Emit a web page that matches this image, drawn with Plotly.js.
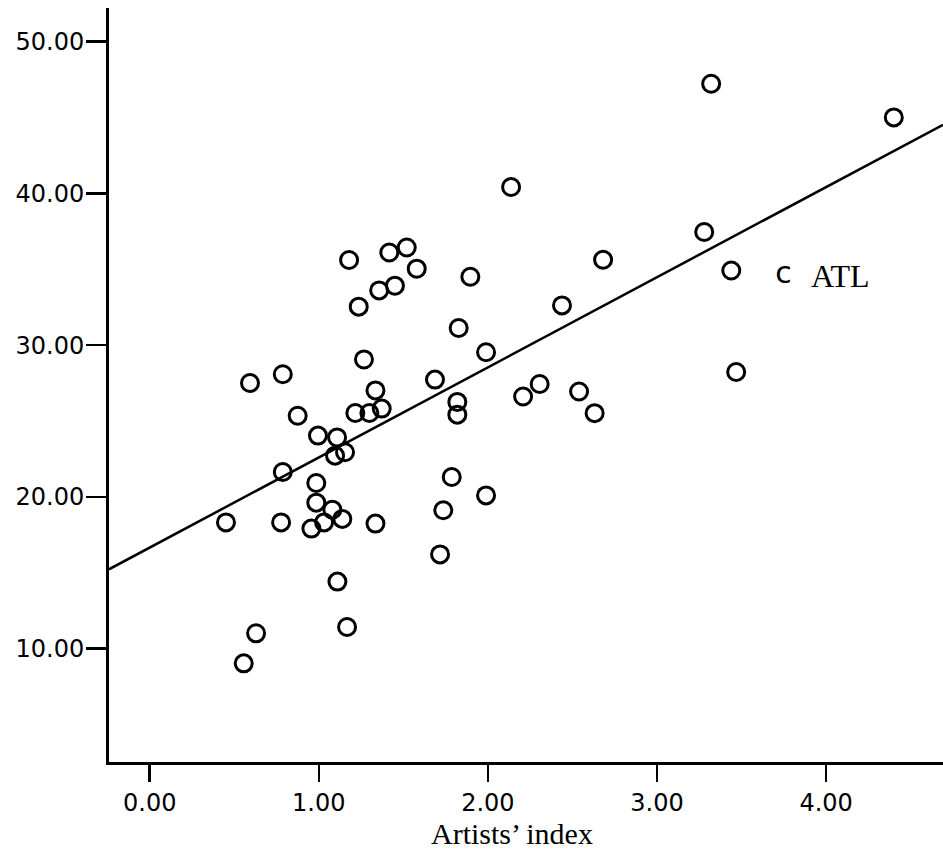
<!DOCTYPE html>
<html>
<head>
<meta charset="utf-8">
<script src="https://cdn.plot.ly/plotly-3.0.1.min.js"></script>
<style>html,body{margin:0;padding:0;background:#fff;}#chart{width:943px;height:852px;}</style>
</head>
<body>
<div id="chart"></div>
<script>
// Artists' index (x) vs outcome (y)
const artistsIndex = [0.451,0.556,0.593,0.629,0.777,0.787,0.787,0.875,0.956,0.985,0.985,0.995,1.031,1.080,1.096,1.108,1.110,1.139,1.155,1.167,1.179,1.216,1.236,1.267,1.299,1.335,1.335,1.357,1.372,1.417,1.450,1.520,1.579,1.687,1.717,1.736,1.786,1.819,1.819,1.827,1.896,1.989,1.989,2.137,2.208,2.306,2.438,2.539,2.631,2.681,3.279,3.320,3.439,3.468,4.400];
const values = [18.32,9.03,27.51,11.01,18.32,28.08,21.64,25.35,17.91,20.92,19.62,24.04,18.32,19.16,22.72,23.92,14.42,18.55,22.94,11.43,35.61,25.53,32.54,29.06,25.53,27.02,18.24,33.61,25.82,36.11,33.92,36.44,35.04,27.73,16.21,19.12,21.31,26.26,25.42,31.13,34.51,29.53,20.10,40.42,26.62,27.44,32.62,26.95,25.52,35.63,37.46,47.23,34.92,28.23,45.01];
// labelled case
const labelX = [3.748];
const labelY = [34.6];
const labelText = ["ATL"];
// fitted regression line
const fitIntercept = 16.66;
const fitSlope = 5.94;
const xRange = [-0.2407, 4.691];
const yRange = [2.53, 52.22];
const xTicks = [0,1,2,3,4];
const yTicks = [10,20,30,40,50];

const fitX = xRange.slice();
const fitY = fitX.map(v => fitIntercept + fitSlope * v);

const traces = [
  {x: fitX, y: fitY, mode: 'lines', type: 'scatter', line: {color: '#000', width: 2.5}, hoverinfo: 'skip', showlegend: false},
  {x: artistsIndex, y: values, mode: 'markers', type: 'scatter', showlegend: false,
   marker: {symbol: 'circle-open', size: 17, color: '#000', line: {width: 3, color: '#000'}}},
  {x: labelX, y: labelY, mode: 'text', type: 'scatter', text: ['c'], showlegend: false,
   textfont: {family: 'DejaVu Sans', size: 30, color: '#000'}, textposition: 'middle center'}
];

const layout = {
  width: 943, height: 852,
  margin: {l: 109, r: 0, t: 8, b: 90},
  paper_bgcolor: '#fff', plot_bgcolor: '#fff',
  showlegend: false,
  xaxis: {
    range: xRange, showgrid: false, zeroline: false, showline: true, linecolor: '#000', linewidth: 3,
    ticks: 'outside', ticklen: 17, tickwidth: 2.5, tickcolor: '#000',
    tickvals: xTicks, ticktext: xTicks.map(v => v.toFixed(2)),
    tickfont: {family: 'DejaVu Sans', size: 24, color: '#000'}
  },
  yaxis: {
    range: yRange, showgrid: false, zeroline: false, showline: true, linecolor: '#000', linewidth: 3,
    ticks: 'outside', ticklen: 20, tickwidth: 2.5, tickcolor: '#000',
    tickvals: yTicks, ticktext: yTicks.map(v => v.toFixed(2)),
    tickfont: {family: 'DejaVu Sans', size: 24, color: '#000'},
    ticklabelstandoff: -3
  },
  annotations: [
    {xref: 'x', yref: 'y', x: labelX[0], y: labelY[0], text: labelText[0], showarrow: false,
     xanchor: 'left', xshift: 25, yshift: -1, font: {family: 'Liberation Serif', size: 32, color: '#000'}},
    {xref: 'paper', yref: 'paper', x: (512 - 109) / 834, y: 0, yshift: -71, text: "Artists’ index", showarrow: false,
     xanchor: 'center', yanchor: 'middle', borderpad: 0, font: {family: 'Liberation Serif', size: 30, color: '#000'}}
  ]
};

Plotly.newPlot('chart', traces, layout, {displayModeBar: false, staticPlot: true});
</script>
</body>
</html>
